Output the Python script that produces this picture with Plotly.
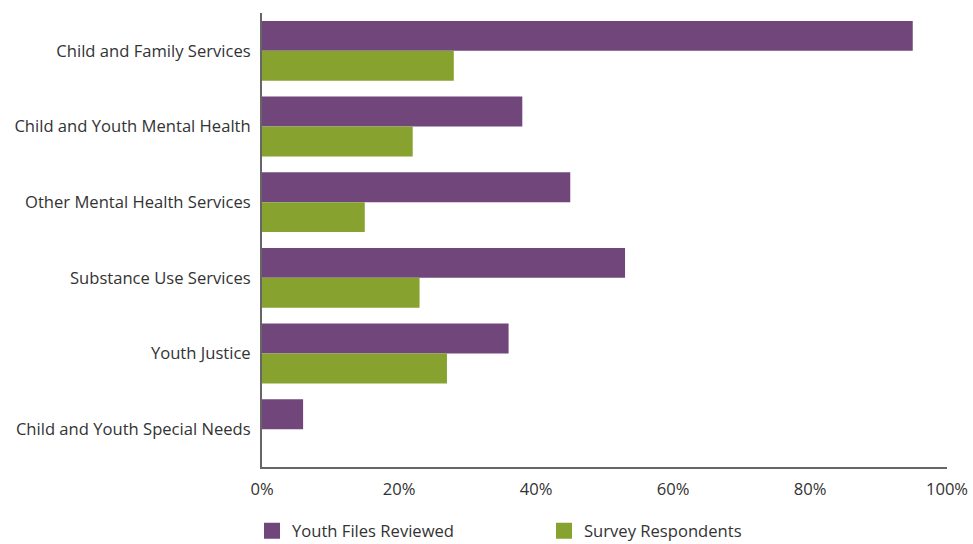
import plotly.graph_objects as go

categories = [
    "Child and Family Services",
    "Child and Youth Mental Health",
    "Other Mental Health Services",
    "Substance Use Services",
    "Youth Justice",
    "Child and Youth Special Needs",
]
youth_files = [95, 38, 45, 53, 36, 6]
survey = [28, 22, 15, 23, 27, 0]
tick_vals = [0, 20, 40, 60, 80, 100]
tick_text = ["0%", "20%", "40%", "60%", "80%", "100%"]

PURPLE = "#71477b"
GREEN = "#87a22f"
FONT = "Open Sans"
FS = 16.6

fig = go.Figure()
fig.add_trace(go.Bar(y=categories, x=youth_files, orientation="h", name="Youth Files Reviewed",
                     marker=dict(color=PURPLE, line=dict(width=0)), showlegend=False))
fig.add_trace(go.Bar(y=categories, x=survey, orientation="h", name="Survey Respondents",
                     marker=dict(color=GREEN, line=dict(width=0)), showlegend=False))
# legend entries with larger square swatches
fig.add_trace(go.Scatter(x=[None], y=[None], mode="markers", name="Youth Files Reviewed",
                         marker=dict(symbol="square", size=20, color=PURPLE)))
fig.add_trace(go.Scatter(x=[None], y=[None], mode="markers", name="Survey Respondents",
                         marker=dict(symbol="square", size=20, color=GREEN)))

fig.update_layout(
    width=973, height=544,
    margin=dict(l=262, r=26, t=13, b=77),
    paper_bgcolor="white", plot_bgcolor="white",
    barmode="group", bargap=0.21, bargroupgap=0,
    font=dict(family=FONT, size=FS, color="#333333"),
    legend=dict(orientation="h", xref="container", yref="container",
                x=252 / 973, xanchor="left", y=13 / 544, yanchor="middle",
                entrywidth=247, entrywidthmode="pixels", itemsizing="trace",
                font=dict(family=FONT, size=FS, color="#333333")),
    xaxis=dict(range=[0, 100], tickvals=tick_vals, ticktext=tick_text, showgrid=False,
               zeroline=False, showline=True, linecolor="#666666", linewidth=2,
               ticks="", ticklabelstandoff=6, tickfont=dict(size=FS), automargin=False),
    yaxis=dict(categoryorder="array", categoryarray=categories, autorange="reversed",
               showgrid=False, zeroline=False, showline=True, linecolor="#666666",
               linewidth=2, ticks="", ticklabelstandoff=6, tickfont=dict(size=FS),
               automargin=False),
)
fig.write_html("out.html", post_script="document.body.style.margin='0';",
               config={"displayModeBar": False})
